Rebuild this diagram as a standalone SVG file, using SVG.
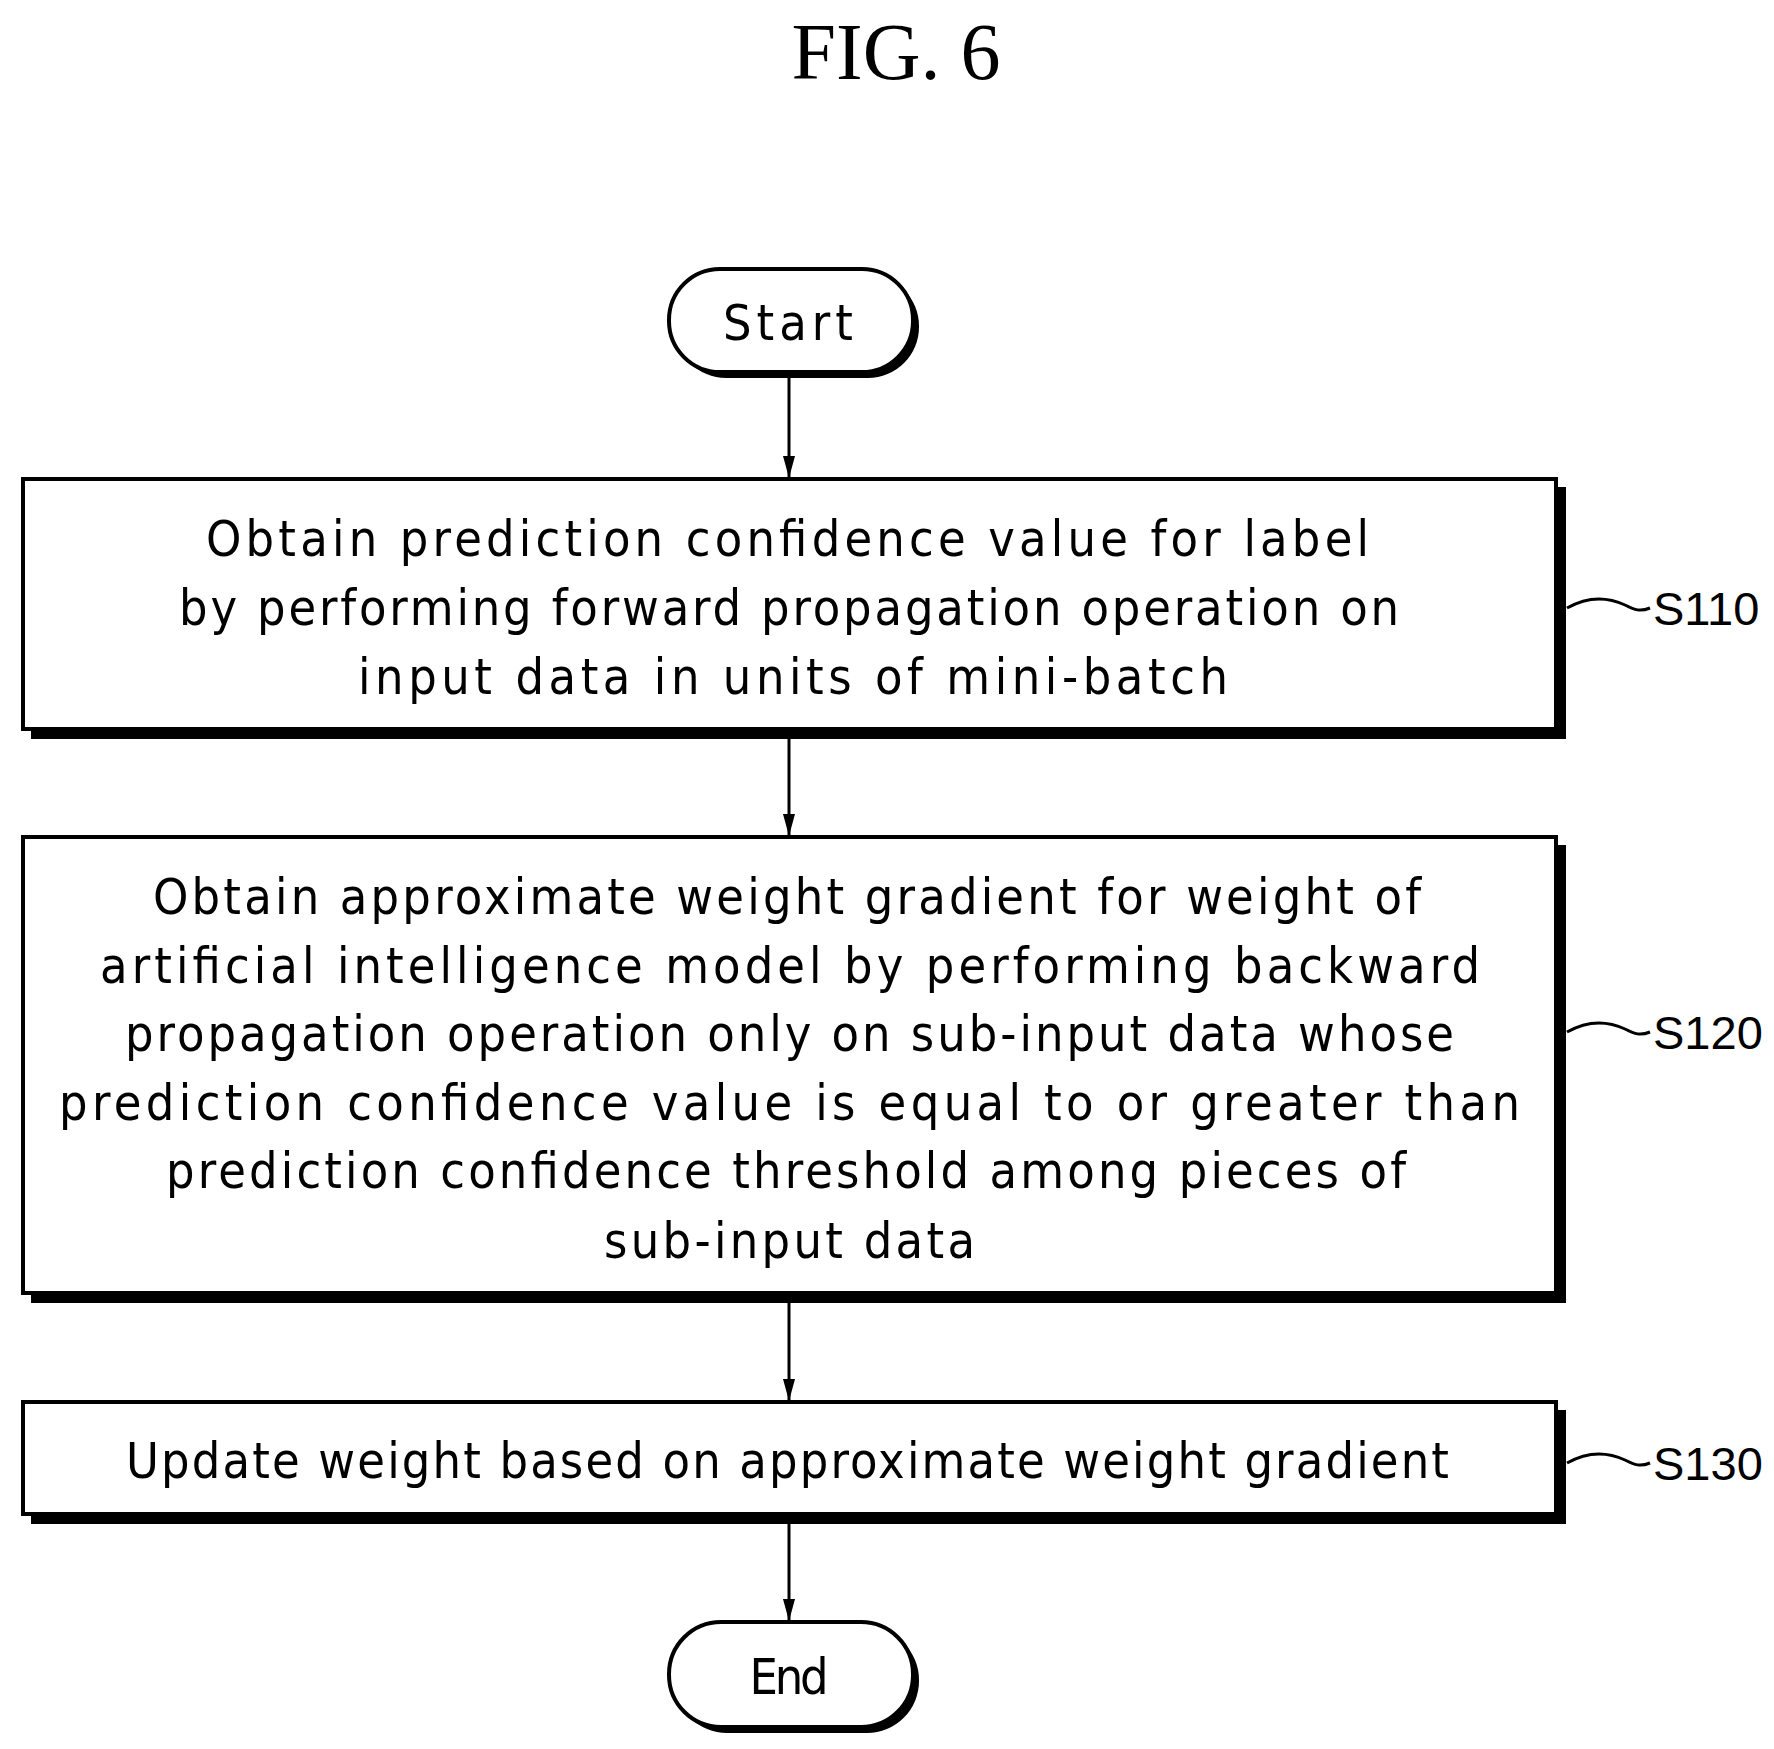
<svg xmlns="http://www.w3.org/2000/svg" width="1774" height="1749" viewBox="0 0 1774 1749">
<defs>
<style>
.t{font-family:"DejaVu Sans Condensed","DejaVu Sans",sans-serif;font-size:50px;fill:#000}
.lbl{font-family:"Liberation Sans Narrow","Liberation Sans",sans-serif;font-size:47px;fill:#000}
.box{fill:#fff;stroke:#000;stroke-width:4}
.sh{fill:#000}
.ln{stroke:#000;stroke-width:3;fill:none}
</style>
<marker id="ah" markerWidth="22" markerHeight="12" refX="22" refY="6" orient="auto" markerUnits="userSpaceOnUse" viewBox="0 0 22 12"><path d="M0,0 L22,6 L0,12 Z" fill="#000"/></marker>
</defs>
<rect width="1774" height="1749" fill="#fff"/>
<text x="896" y="79" text-anchor="middle" font-family="Liberation Serif,serif" font-size="80">FIG. 6</text>
<g id="connectors">
<line class="ln" x1="789" y1="374" x2="789" y2="478" marker-end="url(#ah)"/>
<line class="ln" x1="789" y1="731" x2="789" y2="836" marker-end="url(#ah)"/>
<line class="ln" x1="789" y1="1295" x2="789" y2="1401" marker-end="url(#ah)"/>
<line class="ln" x1="789" y1="1516" x2="789" y2="1621" marker-end="url(#ah)"/>
</g>
<g id="start">
<rect class="sh" x="675" y="275" width="244" height="103" rx="51"/>
<rect class="box" x="669" y="269" width="244" height="103" rx="51"/>
<text class="t" x="788" y="340" text-anchor="middle" textLength="130">Start</text>
</g>
<g id="s110">
<rect class="sh" x="31" y="487" width="1535" height="252"/>
<rect class="box" x="23" y="479" width="1533" height="250"/>
<text class="t" x="206" y="556" textLength="1163">Obtain prediction confidence value for label</text>
<text class="t" x="179" y="625" textLength="1220">by performing forward propagation operation on</text>
<text class="t" x="358" y="694" textLength="870">input data in units of mini-batch</text>
<path class="ln" d="M1567,608 C1590,595 1610,598 1625,605 C1635,610 1640,612 1650,608"/>
<text class="lbl" x="1653" y="625">S110</text>
</g>
<g id="s120">
<rect class="sh" x="31" y="845" width="1535" height="458"/>
<rect class="box" x="23" y="837" width="1533" height="456"/>
<text class="t" x="153" y="914" textLength="1268">Obtain approximate weight gradient for weight of</text>
<text class="t" x="100" y="983" textLength="1380">artificial intelligence model by performing backward</text>
<text class="t" x="125" y="1051" textLength="1329">propagation operation only on sub-input data whose</text>
<text class="t" x="59" y="1120" textLength="1461">prediction confidence value is equal to or greater than</text>
<text class="t" x="166" y="1188" textLength="1240">prediction confidence threshold among pieces of</text>
<text class="t" x="604" y="1258" textLength="371">sub-input data</text>
<path class="ln" d="M1567,1032 C1590,1019 1610,1022 1625,1029 C1635,1034 1640,1036 1650,1032"/>
<text class="lbl" x="1653" y="1049">S120</text>
</g>
<g id="s130">
<rect class="sh" x="31" y="1410" width="1535" height="114"/>
<rect class="box" x="23" y="1402" width="1533" height="112"/>
<text class="t" x="126" y="1478" textLength="1323">Update weight based on approximate weight gradient</text>
<path class="ln" d="M1567,1463 C1590,1450 1610,1453 1625,1460 C1635,1465 1640,1467 1650,1463"/>
<text class="lbl" x="1653" y="1480">S130</text>
</g>
<g id="end">
<rect class="sh" x="675" y="1628" width="244" height="105" rx="52"/>
<rect class="box" x="669" y="1622" width="244" height="105" rx="52"/>
<text class="t" x="789" y="1694" text-anchor="middle" textLength="79">End</text>
</g>
</svg>
